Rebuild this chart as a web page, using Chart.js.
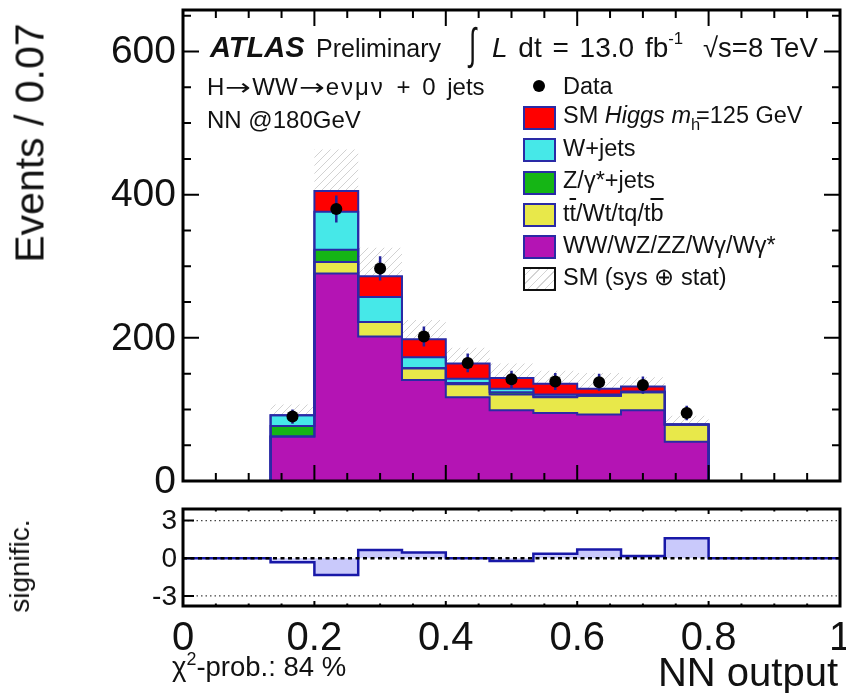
<!DOCTYPE html>
<html>
<head>
<meta charset="utf-8">
<script src="https://cdn.jsdelivr.net/npm/chart.js@4.4.1/dist/chart.umd.min.js"></script>
<style>
  html, body { margin: 0; padding: 0; background: #fff; overflow: hidden; }
  #page { position: relative; width: 846px; height: 693px; overflow: hidden;
          font-family: 'Liberation Sans', Arial, Helvetica, sans-serif; color: #111; }
  canvas { position: absolute; left: 0; }
  .t { position: absolute; white-space: nowrap; line-height: 1; }
  .leg { font-size: 23.5px; left: 563px; }
  .box { position: absolute; left: 523px; width: 33px; height: 24px; box-sizing: border-box;
         border: 2px solid #2a2aa6; }
  .ov { text-decoration: overline; }
  .rot { transform: translate(-50%, -50%) rotate(-90deg); }
  .arr { display: inline-block; width: 28px; text-align: center;
         font-family: 'DejaVu Sans', sans-serif; font-size: 0.95em; transform: scaleX(1.35); }
</style>
</head>
<body>
<div id="page">
  <canvas id="mainPanel" width="846" height="495" style="top:0"></canvas>
  <canvas id="sigPanel" width="846" height="198" style="top:495px"></canvas>

  <!-- header -->
  <div class="t" style="left:210px;top:33px;font-size:29px;font-weight:bold;font-style:italic">ATLAS</div>
  <div class="t" style="left:316px;top:36px;font-size:25px">Preliminary</div>
  <div class="t" style="left:469px;top:22px;font-size:44px;transform:scaleX(0.6);transform-origin:left">∫</div>
  <div class="t" style="left:492px;top:34px;font-size:28px;word-spacing:3px"><i>L</i> dt = 13.0 fb<span style="font-size:0.6em;position:relative;top:-0.75em">-1</span></div>
  <div class="t" style="left:703px;top:34px;font-size:27.5px">√s=8 TeV</div>

  <div class="t" style="left:207px;top:75px;font-size:24px;word-spacing:5px">H<span class="arr">→</span>WW<span class="arr">→</span><span style="letter-spacing:2px">eνμν</span> + 0 jets</div>
  <div class="t" style="left:207px;top:108px;font-size:24px">NN @180GeV</div>

  <!-- legend -->
  <div style="position:absolute;left:533px;top:80px;width:12px;height:12px;border-radius:50%;background:#000"></div>
  <div class="t leg" style="top:75px">Data</div>
  <div class="box" style="top:106px;background:#ff0000"></div>
  <div class="t leg" style="top:104px">SM <i>Higgs</i> <i>m</i><span style="font-size:0.7em;position:relative;top:0.45em;margin-right:-0.25em">h</span>=125 GeV</div>
  <div class="box" style="top:138px;background:#46e8e8"></div>
  <div class="t leg" style="top:137px">W+jets</div>
  <div class="box" style="top:171px;background:#15b515"></div>
  <div class="t leg" style="top:169px">Z/γ*+jets</div>
  <div class="box" style="top:203px;background:#e8e84a"></div>
  <div class="t leg" style="top:202px">t<span class="ov">t</span>/Wt/tq/t<span class="ov">b</span></div>
  <div class="box" style="top:235px;background:#b414b4"></div>
  <div class="t leg" style="top:234px">WW/WZ/ZZ/Wγ/Wγ*</div>
  <div class="box" style="top:267px;border-color:#111;background:repeating-linear-gradient(-45deg,#d4d4d4 0 1px,#fff 1px 6px)"></div>
  <div class="t leg" style="top:266px">SM (sys ⊕ stat)</div>

  <!-- axis titles -->
  <div class="t rot" style="left:30px;top:143px;font-size:41px">Events / 0.07</div>
  <div class="t rot" style="left:20px;top:566px;font-size:28px">signific.</div>
  <div class="t" style="right:8px;top:652px;font-size:40px">NN output</div>
  <div class="t" style="left:172px;top:653px;font-size:27.5px">χ<span style="font-size:0.65em;position:relative;top:-0.6em">2</span>-prob.: 84 %</div>
</div>

<script>
// NN output binning (15 bins from 0 to 1)
const binEdges = [0, 0.0667, 0.1333, 0.2, 0.2667, 0.3333, 0.4, 0.4667, 0.5333,
                  0.6, 0.6667, 0.7333, 0.8, 0.8667, 0.9333, 1.0];

// expected events per bin, by process (stacked bottom to top)
const diboson   = [0, 0, 62, 290, 202, 141, 117, 99, 95, 93, 99, 55, 0, 0, 0];
const topQuark  = [0, 0, 0, 16, 20, 16, 18, 22, 22, 26, 25, 24, 0, 0, 0];
const zJets     = [0, 0, 15, 17, 0, 1, 2, 3, 1, 0, 0, 0, 0, 0, 0];
const wJets     = [0, 0, 15, 53, 35, 15, 6, 5, 3, 2, 1, 0, 0, 0, 0];
const higgs     = [0, 0, 0, 29, 29, 25, 21, 15, 15, 8, 7, 0, 0, 0, 0];
// total SM uncertainty (sys + stat) per bin
const smUncert  = [0, 0, 15, 58, 40, 27, 22, 20, 18, 22, 13, 12, 0, 0, 0];

// observed events and their errors
const dataEvents = [null, null, 90, 380, 297, 202, 165, 142, 139, 138, 134, 95, null, null, null];
const dataErrors = [null, null, 10, 19, 17, 14, 13, 12, 12, 12, 12, 10, null, null, null];

// per-bin significance of data vs. expectation
const significance = [0, 0, -0.32, -1.34, 0.66, 0.45, 0, -0.21, 0.35, 0.7, 0.18, 1.6, 0, 0, 0];

const mainYTicks   = [0, 200, 400, 600];
const mainYLabels  = ['0', '200', '400', '600'];
const sigYTicks    = [-3, 0, 3];
const sigYLabels   = ['-3', '0', '3'];
const xTickValues  = [0, 0.2, 0.4, 0.6, 0.8, 1];
const xTickLabels  = ['0', '0.2', '0.4', '0.6', '0.8', '1'];

const FONT = "'Liberation Sans', Arial, Helvetica, sans-serif";
const OUTLINE = '#2a2aa6';

// histogram as step points: left edge of each bin, plus the closing right edge
function steps(values) {
  const pts = values.map((v, i) => ({ x: binEdges[i], y: v }));
  pts.push({ x: binEdges[binEdges.length - 1], y: values[values.length - 1] });
  return pts;
}

// stacked cumulative layers
const layers = [
  { name: 'WW/WZ/ZZ/Wγ/Wγ*', vals: diboson,  color: '#b414b4' },
  { name: 'tt/Wt/tq/tb',     vals: topQuark, color: '#e8e84a' },
  { name: 'Z/γ*+jets',       vals: zJets,    color: '#15b515' },
  { name: 'W+jets',          vals: wJets,    color: '#46e8e8' },
  { name: 'SM Higgs',        vals: higgs,    color: '#ff0000' }
];
let running = binEdges.slice(1).map(() => 0);
const stackSets = layers.map((l, k) => {
  running = running.map((r, i) => r + l.vals[i]);
  return {
    label: l.name, data: steps(running), stepped: true,
    backgroundColor: l.color, borderColor: OUTLINE, borderWidth: 2,
    pointRadius: 0, fill: k === 0 ? 'origin' : '-1', order: 9 - k
  };
});
const total = running;

// hatched uncertainty band
function hatchPattern() {
  const c = document.createElement('canvas');
  c.width = 8; c.height = 8;
  const g = c.getContext('2d');
  g.fillStyle = '#fff'; g.fillRect(0, 0, 8, 8);
  g.strokeStyle = '#d2d2d2'; g.lineWidth = 1;
  g.beginPath();
  g.moveTo(0, 8); g.lineTo(8, 0);
  g.moveTo(-1, 1); g.lineTo(1, -1);
  g.moveTo(7, 9); g.lineTo(9, 7);
  g.stroke();
  return g.createPattern(c, 'repeat');
}
const bandLow  = total.map((t, i) => t - smUncert[i]);
const bandHigh = total.map((t, i) => t + smUncert[i]);

const dataPoints = [];
dataEvents.forEach((v, i) => {
  if (v !== null) dataPoints.push({ x: (binEdges[i] + binEdges[i + 1]) / 2, y: v, err: dataErrors[i] });
});

// frame, inward ticks and y labels of a panel
function drawFrame(chart, cfg) {
  const ctx = chart.ctx, area = chart.chartArea, xs = chart.scales.x, ys = chart.scales.y;
  ctx.save();
  ctx.strokeStyle = '#000';
  ctx.lineWidth = 2;
  ctx.beginPath();
  for (let v = 0; v <= 1.0001; v += cfg.xMinorStep) {
    const major = xTickValues.some(m => Math.abs(m - v) < 1e-6);
    const len = major ? cfg.xMajorLen : cfg.xMinorLen;
    const px = xs.getPixelForValue(v);
    ctx.moveTo(px, area.bottom); ctx.lineTo(px, area.bottom - len);
    ctx.moveTo(px, area.top);    ctx.lineTo(px, area.top + len);
  }
  cfg.yTicks.forEach(t => {
    const py = ys.getPixelForValue(t.v);
    if (py < area.top - 0.5 || py > area.bottom + 0.5) return;
    ctx.moveTo(area.left, py); ctx.lineTo(area.left + t.len, py);
    if (cfg.rightTicks) { ctx.moveTo(area.right, py); ctx.lineTo(area.right - t.len, py); }
  });
  ctx.stroke();
  ctx.lineWidth = 3;
  ctx.strokeRect(area.left, area.top, area.right - area.left, area.bottom - area.top);

  ctx.fillStyle = '#111';
  ctx.font = cfg.labelSize + 'px ' + FONT;
  ctx.textAlign = 'right';
  ctx.textBaseline = 'middle';
  cfg.labelValues.forEach((v, i) =>
    ctx.fillText(cfg.labels[i], area.left - cfg.labelGap, ys.getPixelForValue(v) + cfg.labelShift));
  ctx.restore();
}

// main panel: stacked expectation, band, data
const mainY = [];
for (let v = 0; v <= 658; v += 50) mainY.push({ v, len: mainYTicks.includes(v) ? 16 : 8 });

const hiddenY = (min, max) => ({
  type: 'linear', min, max,
  afterFit(s) { s.width = 183; },
  grid: { display: false, drawTicks: false }, border: { display: false },
  ticks: { display: false }
});

new Chart(document.getElementById('mainPanel'), {
  type: 'line',
  data: {
    datasets: [
      ...stackSets,
      { label: 'band low', data: steps(bandLow), stepped: true, borderWidth: 0,
        pointRadius: 0, fill: false, order: 20 },
      { label: 'SM (sys ⊕ stat)', data: steps(bandHigh), stepped: true, borderWidth: 0,
        pointRadius: 0, fill: '-1', backgroundColor: hatchPattern(), order: 20 },
      { label: 'Data', data: dataPoints, showLine: false, pointRadius: 6,
        pointBackgroundColor: '#000', pointBorderWidth: 0, order: 0 }
    ]
  },
  options: {
    responsive: false, animation: false, devicePixelRatio: 1,
    layout: { padding: { left: 0, top: 10, right: 6, bottom: 14 } },
    plugins: {
      legend: { display: false }, tooltip: { enabled: false },
      filler: { drawTime: 'beforeDatasetsDraw', propagate: false }
    },
    scales: {
      x: { type: 'linear', min: 0, max: 1, display: false },
      y: hiddenY(0, 658)
    }
  },
  plugins: [{
    id: 'mainDecor',
    beforeDatasetDraw(chart, args) {
      if (chart.data.datasets[args.index].label !== 'Data') return;
      const ctx = chart.ctx, xs = chart.scales.x, ys = chart.scales.y;
      ctx.save();
      ctx.strokeStyle = '#22229a'; ctx.lineWidth = 2.5;
      ctx.beginPath();
      dataPoints.forEach(p => {
        const px = xs.getPixelForValue(p.x);
        ctx.moveTo(px, ys.getPixelForValue(p.y - p.err));
        ctx.lineTo(px, ys.getPixelForValue(p.y + p.err));
      });
      ctx.stroke();
      ctx.restore();
    },
    afterDraw(chart) {
      drawFrame(chart, { xMinorStep: 0.05, xMajorLen: 16, xMinorLen: 8, yTicks: mainY, rightTicks: true,
        labelValues: mainYTicks, labels: mainYLabels, labelSize: 39, labelGap: 7, labelShift: 1 });
    }
  }]
});

// significance panel
new Chart(document.getElementById('sigPanel'), {
  type: 'line',
  data: {
    datasets: [{
      label: 'significance', data: steps(significance), stepped: true,
      backgroundColor: '#c9c9fb', borderColor: '#1818a8', borderWidth: 2.5,
      pointRadius: 0, fill: 'origin'
    }]
  },
  options: {
    responsive: false, animation: false, devicePixelRatio: 1,
    layout: { padding: { left: 0, top: 14, right: 6, bottom: 87 } },
    plugins: { legend: { display: false }, tooltip: { enabled: false } },
    scales: {
      x: { type: 'linear', min: 0, max: 1, display: false },
      y: hiddenY(-3.8, 3.92)
    }
  },
  plugins: [{
    id: 'sigDecor',
    afterDatasetsDraw(chart) {
      const ctx = chart.ctx, a = chart.chartArea, ys = chart.scales.y;
      ctx.save();
      [-3, 3].forEach(v => {
        const py = ys.getPixelForValue(v);
        ctx.strokeStyle = '#444'; ctx.lineWidth = 1.3; ctx.setLineDash([1.5, 3]);
        ctx.beginPath(); ctx.moveTo(a.left, py); ctx.lineTo(a.right, py); ctx.stroke();
      });
      const p0 = ys.getPixelForValue(0);
      ctx.strokeStyle = '#000'; ctx.lineWidth = 2.5; ctx.setLineDash([4, 3.5]);
      ctx.beginPath(); ctx.moveTo(a.left, p0); ctx.lineTo(a.right, p0); ctx.stroke();
      ctx.restore();
    },
    afterDraw(chart) {
      const ctx = chart.ctx, xs = chart.scales.x;
      drawFrame(chart, { xMinorStep: 0.05, xMajorLen: 5, xMinorLen: 2.5,
        yTicks: sigYTicks.map(v => ({ v, len: 11 })), rightTicks: false,
        labelValues: sigYTicks, labels: sigYLabels, labelSize: 28, labelGap: 6, labelShift: 1 });
      ctx.save();
      ctx.fillStyle = '#111';
      ctx.font = '40px ' + FONT;
      ctx.textAlign = 'center';
      ctx.textBaseline = 'alphabetic';
      xTickValues.forEach((v, i) => ctx.fillText(xTickLabels[i], xs.getPixelForValue(v), 155));
      ctx.restore();
    }
  }]
});
</script>
</body>
</html>
